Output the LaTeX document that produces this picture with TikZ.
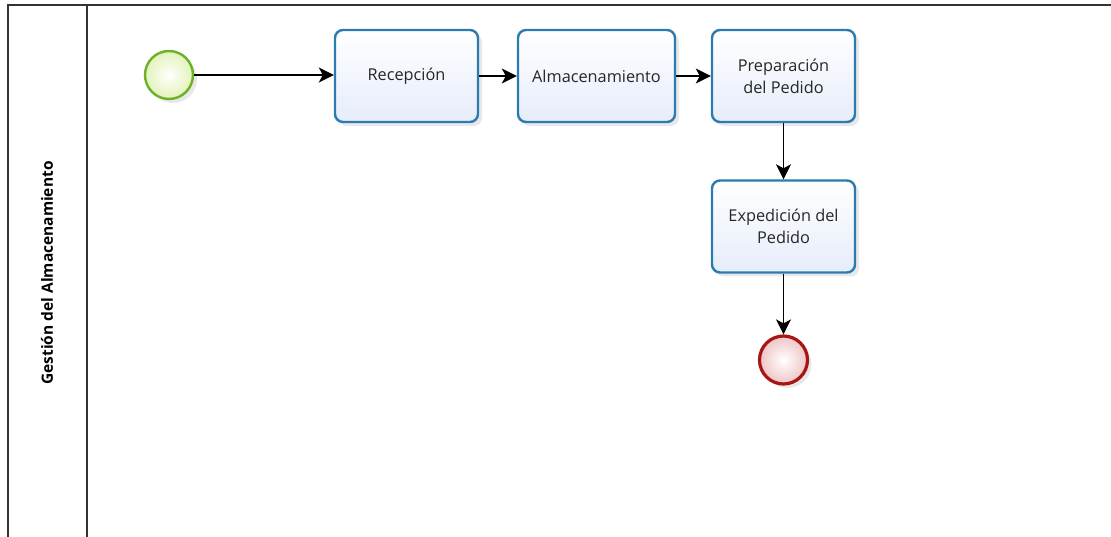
\documentclass[tikz,border=0pt]{standalone}
\usepackage{fontspec}
\setmainfont{Open Sans}
\usetikzlibrary{arrows.meta,shadows}
\definecolor{taskblue}{HTML}{2B7BB0}
\definecolor{taskfill}{HTML}{E6ECFA}
\definecolor{startgreen}{HTML}{6DB02C}
\definecolor{startfill}{HTML}{E2F3B8}
\definecolor{endred}{HTML}{A61616}
\definecolor{endfill}{HTML}{F0C4C4}
\tikzset{
  px/.style={x=1pt,y=-1pt},
  task/.style={draw=taskblue, line width=2.4pt, rounded corners=8pt,
    top color=white, bottom color=taskfill, minimum width=143pt, minimum height=92pt,
    inner sep=0pt, align=center, font=\fontsize{16.3}{22}\selectfont, text=black!85,
    drop shadow={opacity=0.18, shadow xshift=4pt, shadow yshift=-4pt}},
  startev/.style={circle, draw=startgreen, line width=2.4pt, minimum size=48pt, inner sep=0pt,
    inner color=white, outer color=startfill,
    drop shadow={opacity=0.18, shadow xshift=4pt, shadow yshift=-4pt}},
  endev/.style={circle, draw=endred, line width=3.2pt, minimum size=48pt, inner sep=0pt,
    inner color=white, outer color=endfill,
    drop shadow={opacity=0.18, shadow xshift=4pt, shadow yshift=-4pt}},
  flow/.style={line width=1.5pt, -{Stealth[length=15pt,width=15pt,inset=4pt]}},
  pool/.style={line width=1.6pt, draw=black!80}
}
\begin{document}
\begin{tikzpicture}[px]
\useasboundingbox (0,0) rectangle (1111,537);
\fill[white] (0,0) rectangle (1111,537);
% pool and lane
\draw[pool] (1112,5) -- (8,5) -- (8,538);
\draw[pool] (87,5) -- (87,538);
\node[rotate=90, font=\bfseries\fontsize{15.5}{18}\selectfont] (lane) at (47,273) {Gestión del Almacenamiento};
% nodes
\node[startev] (start) at (169,75) {};
\node[task] (rec) at (406.5,76) {Recepción};
\node[task, minimum width=157pt] (alm) at (596.5,76) {Almacenamiento};
\node[task] (prep) at (783.5,76) {Preparación\\del Pedido};
\node[task] (exp) at (783.5,226.5) {Expedición del\\Pedido};
\node[endev] (end) at (783.5,360) {};
% flows
\draw[flow] (start) -- (rec.west |- start);
\draw[flow] (rec) -- (alm);
\draw[flow] (alm) -- (prep);
\draw[flow] (prep) -- (exp);
\draw[flow] (exp) -- (end);
\end{tikzpicture}
\end{document}
